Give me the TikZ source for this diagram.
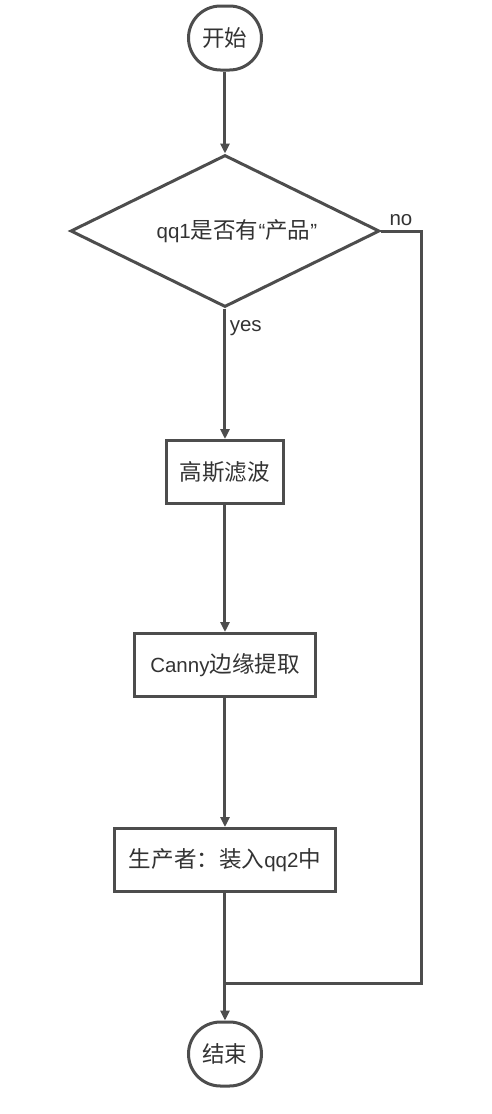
\documentclass[tikz,border=0pt]{standalone}
\usepackage{fontspec}
\setmainfont{Liberation Sans}
\newfontfamily\cjk[Scale=1.1]{Noto Sans CJK SC}
\usetikzlibrary{shapes,arrows.meta,positioning,calc}
\definecolor{linegray}{RGB}{77,77,77}
\definecolor{textgray}{RGB}{51,51,51}

\begin{document}
\begin{tikzpicture}[x=1pt, y=1pt, node distance=193pt, line width=3pt, color=linegray,
  font=\fontsize{20.5}{24}\selectfont, >={Triangle[length=10pt,width=9pt]},
  terminal/.style={draw, rectangle, rounded corners=32pt, minimum width=73pt, minimum height=64pt, text=textgray},
  process/.style={draw, rectangle, minimum height=63pt, text=textgray},
  decision/.style={draw, diamond, aspect=2, minimum width=309pt, minimum height=152pt, inner sep=0pt, text=textgray}]
% 开始
\node[terminal] (start) {\cjk 开始};

% 判断
\node[decision, below of=start] (check) {\hspace*{24pt}qq1{\cjk 是否有}“{\cjk 产品}”};

% 处理
\node[process, below of=check, yshift=-48pt, minimum width=117pt] (gauss) {\cjk 高斯滤波};
\node[process, below of=gauss, minimum width=181pt] (canny) {Canny{\cjk 边缘提取}};
\node[process, below of=canny, yshift=-2pt, minimum width=220pt] (produce) {{\cjk 生产者：装入}qq2{\cjk 中}};

% 结束
\node[terminal, below of=produce, yshift=-1pt] (end) {\cjk 结束};

\coordinate (noturn) at ([xshift=40pt]check.east);
\coordinate (merge) at ([yshift=-90pt]produce.south);
\useasboundingbox ($(start.center)+(-225,38)$) rectangle ($(start.center)+(266,-1076)$);

% 连接
\draw[->] (start) -- (check);
\draw[->] (check) -- node[pos=0.15, right, text=textgray] {yes} (gauss);
\draw (check.east) -- node[above, text=textgray] {no} (noturn) |- (merge);
\draw[->] (gauss) -- (canny);
\draw[->] (canny) -- (produce);
\draw[->] (produce) -- (end);
\end{tikzpicture}
\end{document}
